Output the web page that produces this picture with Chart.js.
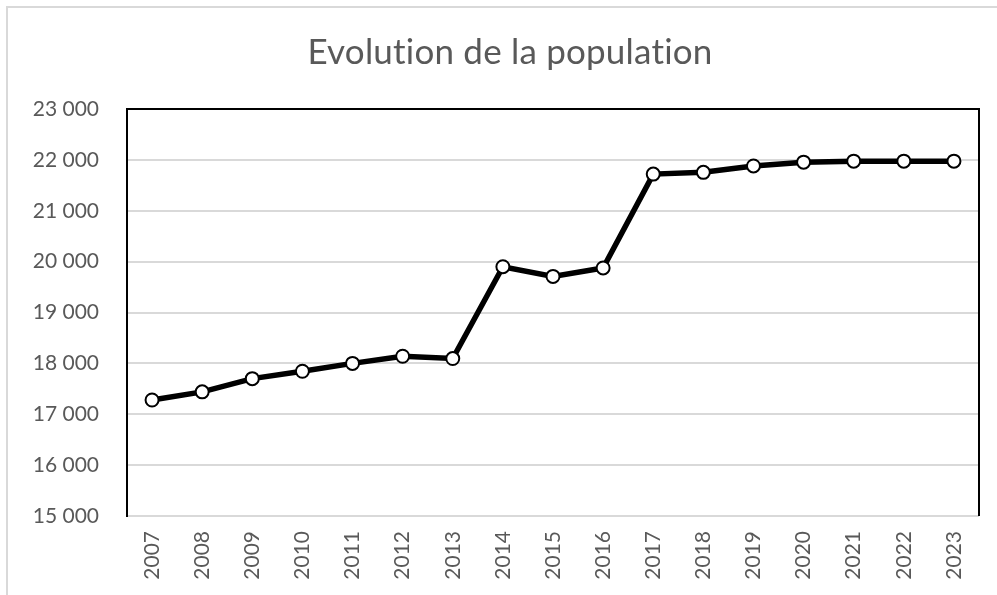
<!DOCTYPE html>
<html>
<head>
<meta charset="utf-8">
<script src="https://cdn.jsdelivr.net/npm/chart.js@4.4.1/dist/chart.umd.min.js"></script>
<style>
  html, body { margin: 0; padding: 0; background: #ffffff; }
  #wrap { width: 997px; height: 595px; position: relative; }
</style>
</head>
<body>
<div id="wrap"><canvas id="c" width="997" height="595"></canvas></div>
<script>
const chartTitle = "Evolution de la population";
const years = ["2007","2008","2009","2010","2011","2012","2013","2014","2015","2016","2017","2018","2019","2020","2021","2022","2023"];
const population = [17280, 17440, 17700, 17845, 18000, 18140, 18095, 19900, 19710, 19875, 21720, 21755, 21880, 21955, 21975, 21975, 21975];
const yMin = 15000;
const yMax = 23000;
const yStep = 1000;

function formatThousands(v) {
  const s = String(Math.round(v));
  return s.replace(/\B(?=(\d{3})+(?!\d))/g, " ");
}

const framePlugin = {
  id: 'framePlugin',
  beforeDraw(chart) {
    const ctx = chart.ctx;
    ctx.save();
    ctx.fillStyle = '#ffffff';
    ctx.fillRect(0, 0, chart.width, chart.height);
    // outer chart frame (light gray)
    ctx.strokeStyle = '#d9d9d9';
    ctx.lineWidth = 2;
    ctx.beginPath();
    ctx.moveTo(7, chart.height);
    ctx.lineTo(7, 7);
    ctx.lineTo(chart.width, 7);
    ctx.stroke();
    // title
    ctx.fillStyle = '#595959';
    ctx.font = '400 35px Lato, "Open Sans", sans-serif';
    if ('letterSpacing' in ctx) ctx.letterSpacing = '0.2px';
    ctx.textAlign = 'center';
    ctx.textBaseline = 'alphabetic';
    ctx.fillText(chartTitle, 510, 64);
    ctx.restore();
  },
  beforeDatasetsDraw(chart) {
    const ctx = chart.ctx;
    const a = chart.chartArea;
    ctx.save();
    ctx.strokeStyle = '#000000';
    ctx.lineWidth = 2;
    ctx.beginPath();
    ctx.moveTo(a.left, a.bottom);
    ctx.lineTo(a.left, a.top);
    ctx.lineTo(a.right, a.top);
    ctx.lineTo(a.right, a.bottom);
    ctx.stroke();
    ctx.restore();
  }
};

new Chart(document.getElementById('c'), {
  type: 'line',
  data: {
    labels: years,
    datasets: [{
      data: population,
      borderColor: '#000000',
      borderWidth: 5.5,
      backgroundColor: '#ffffff',
      pointBackgroundColor: '#ffffff',
      pointBorderColor: '#000000',
      pointBorderWidth: 2,
      pointRadius: 6.5,
      tension: 0,
      fill: false
    }]
  },
  options: {
    responsive: false,
    animation: false,
    devicePixelRatio: 1,
    layout: { padding: { left: 0, top: 109, right: 18, bottom: 0 } },
    plugins: {
      legend: { display: false },
      title: { display: false },
      tooltip: { enabled: false }
    },
    scales: {
      x: {
        offset: true,
        grid: { display: false, drawTicks: false },
        border: { display: false },
        ticks: {
          minRotation: 90,
          maxRotation: 90,
          padding: 15,
          color: '#595959',
          font: { family: 'Lato, "Open Sans", sans-serif', size: 21 }
        },
        afterFit(scale) { scale.height = 79; }
      },
      y: {
        min: yMin,
        max: yMax,
        grid: { color: '#d9d9d9', lineWidth: 2, drawTicks: false },
        border: { display: true, color: '#000000', width: 2 },
        ticks: {
          stepSize: yStep,
          padding: 28,
          color: '#595959',
          font: { family: 'Lato, "Open Sans", sans-serif', size: 21 },
          callback: (v) => formatThousands(v)
        },
        afterFit(scale) { scale.width = 127; }
      }
    }
  },
  plugins: [framePlugin]
});
</script>
</body>
</html>
